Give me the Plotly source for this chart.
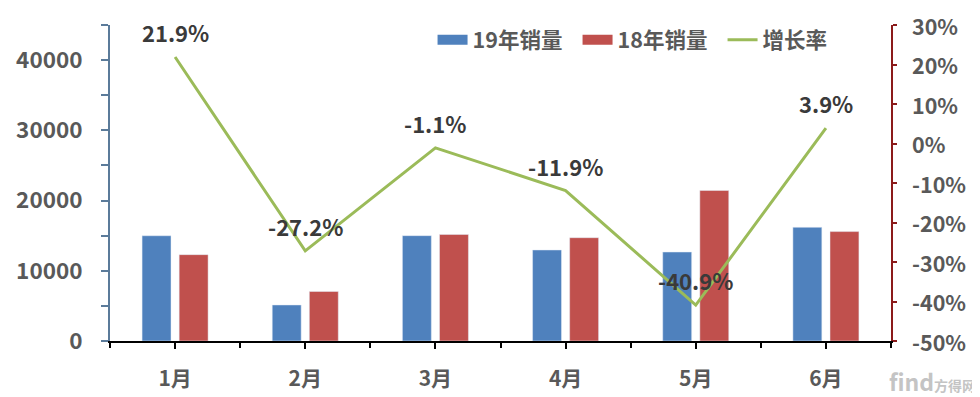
import plotly.graph_objects as go

months = ["1月", "2月", "3月", "4月", "5月", "6月"]
sales_2019 = [14990, 5130, 15000, 12960, 12670, 16190]
sales_2018 = [12300, 7050, 15170, 14710, 21440, 15580]
growth = [0.219, -0.272, -0.011, -0.119, -0.409, 0.039]
growth_labels = ["21.9%", "-27.2%", "-1.1%", "-11.9%", "-40.9%", "3.9%"]
left_tickvals = [0, 5000, 10000, 15000, 20000, 25000, 30000, 35000, 40000, 45000]
left_ticktext = ["0", "", "10000", "", "20000", "", "30000", "", "40000", ""]
right_tickvals = [-0.5, -0.4, -0.3, -0.2, -0.1, 0, 0.1, 0.2, 0.3]
right_ticktext = ["-50%", "-40%", "-30%", "-20%", "-10%", "0%", "10%", "20%", "30%"]

FONT = "Noto Sans CJK SC"
GRAY = "#595959"
BLUE, RED, GREEN = "#4F81BD", "#C0504D", "#9BBB59"

fig = go.Figure()
fig.add_trace(go.Bar(name="19年销量", x=months, y=sales_2019, marker_color=BLUE,
                     xaxis="x", yaxis="y", showlegend=False))
fig.add_trace(go.Bar(name="18年销量", x=months, y=sales_2018, marker_color=RED,
                     xaxis="x", yaxis="y", showlegend=False))
fig.add_trace(go.Scatter(name="增长率", x=months, y=growth, mode="lines",
                         line=dict(color=GREEN, width=3), xaxis="x2", yaxis="y2",
                         showlegend=False))
# legend entries (rectangular swatches as in the reference)
for name, col, w in [("19年销量", BLUE, 10), ("18年销量", RED, 10), ("增长率", GREEN, 3)]:
    fig.add_trace(go.Scatter(name=name, x=[None], y=[None], mode="lines",
                             line=dict(color=col, width=w), xaxis="x2", yaxis="y2"))

for m, g, t in zip(months, growth, growth_labels):
    fig.add_annotation(x=m, y=g, xref="x2", yref="y2", text=t, showarrow=False,
                       yshift=25, font=dict(family=FONT, size=22, color="#3a3a3a", weight="bold"))

# right axis tick labels, left-aligned as in the reference
for v, t in zip(right_tickvals, right_ticktext):
    fig.add_annotation(x=1.0, y=v, xref="paper", yref="y2", text=t, showarrow=False,
                       xanchor="left", yanchor="middle", xshift=19,
                       font=dict(family=FONT, size=21.5, color=GRAY, weight="bold"))

fig.add_annotation(x=1.0, y=0.0, xref="paper", yref="paper", xanchor="right", yanchor="middle",
                   xshift=87, yshift=-40, showarrow=False,
                   text="<span style='font-size:23px'>find</span><span style='font-size:14px'>方得网</span>",
                   font=dict(family=FONT, size=14, color="#c4c4c4"))

fig.update_layout(
    width=972, height=389,
    margin=dict(l=102, r=89, t=17, b=56, autoexpand=False),
    paper_bgcolor="white", plot_bgcolor="white",
    barmode="group", bargap=0.43, bargroupgap=0.22,
    font=dict(family=FONT, size=22, color=GRAY, weight="bold"),
    legend=dict(orientation="h", x=0.413, y=0.953, xanchor="left", yanchor="middle",
                font=dict(family=FONT, size=21.5, color=GRAY, weight="bold"),
                bgcolor="rgba(0,0,0,0)", entrywidth=100, tracegroupgap=0),
    xaxis=dict(type="category", range=[-0.5, 5.5], showline=True, linecolor="black",
               linewidth=2, ticks="outside", ticklen=6, tickcolor="black", tickwidth=2,
               showgrid=False, ticklabelstandoff=12,
               tickfont=dict(family=FONT, size=21, color=GRAY, weight="bold")),
    xaxis2=dict(type="category", range=[-0.5, 5.5], overlaying="x", anchor="y2",
                showticklabels=False, tickson="boundaries", ticks="outside", ticklen=6,
                tickcolor="black", tickwidth=2, showgrid=False, showline=False),
    yaxis=dict(range=[0, 45000], tickvals=left_tickvals, ticktext=left_ticktext,
               showline=True, linecolor="#5B7B9A", linewidth=2, ticks="outside",
               ticklen=7, tickcolor="#5B7B9A", tickwidth=2, showgrid=False, zeroline=False,
               tickfont=dict(family=FONT, size=22.5, color=GRAY, weight="bold"),
               ticklabelstandoff=14),
    yaxis2=dict(range=[-0.5, 0.3], tickvals=right_tickvals, showticklabels=False,
                overlaying="y", side="right", showline=True, linecolor="#8B1A1A",
                linewidth=2, ticks="outside", ticklen=4, tickcolor="#8B1A1A", tickwidth=2,
                showgrid=False, zeroline=False),
)

fig.write_html("out.html")
